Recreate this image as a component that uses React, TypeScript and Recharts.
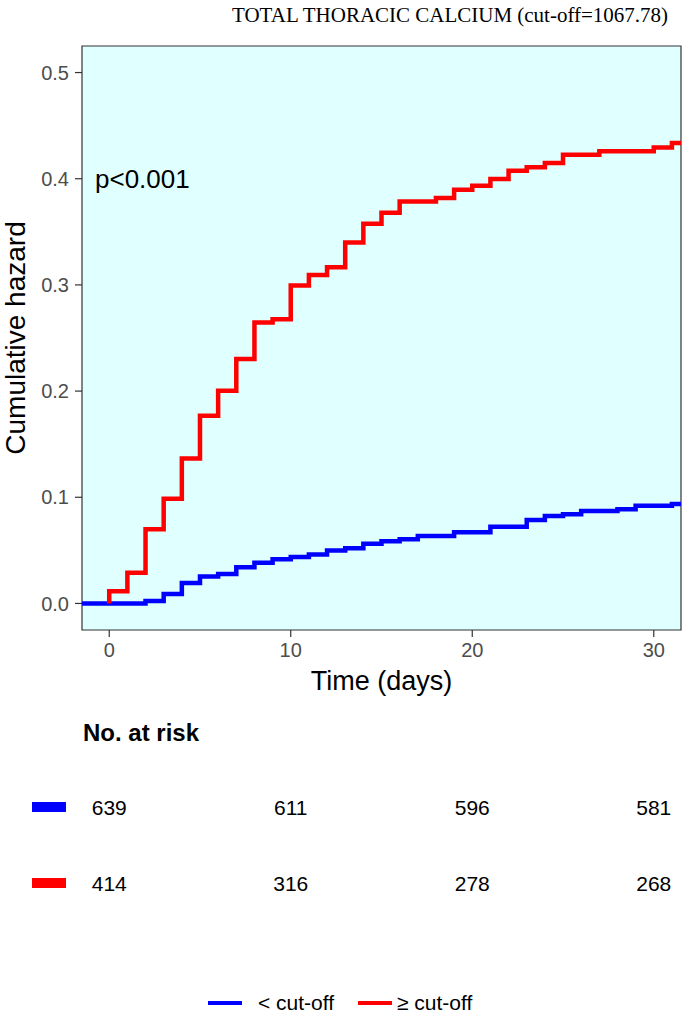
import React from "react";
import {
  LineChart,
  Line,
  XAxis,
  YAxis,
  CartesianGrid,
  ReferenceArea,
  ScatterChart,
  Scatter,
} from "recharts";

// step change points (days, cumulative hazard)
const lowTimes = [-2, 0, 2, 3, 4, 5, 6, 7, 8, 9, 10, 11, 12, 13, 14, 15, 16, 17, 19, 21, 23, 24, 25, 26, 28, 29, 31, 32];
const lowHazard = [0, 0, 0.0022, 0.009, 0.0192, 0.0255, 0.0278, 0.034, 0.0384, 0.0417, 0.0437, 0.046, 0.0498, 0.0519, 0.0563, 0.0585, 0.0604, 0.0635, 0.067, 0.0723, 0.0786, 0.0824, 0.084, 0.0871, 0.0887, 0.0921, 0.0937, 0.0937];

const highTimes = [0, 0, 1, 2, 3, 4, 5, 6, 7, 8, 9, 10, 11, 12, 13, 14, 15, 16, 18, 19, 20, 21, 22, 23, 24, 25, 27, 30, 31, 32];
const highHazard = [0, 0.0116, 0.029, 0.0698, 0.0987, 0.1365, 0.1767, 0.2003, 0.2302, 0.2645, 0.2676, 0.2994, 0.3094, 0.3167, 0.34, 0.3575, 0.368, 0.3786, 0.3818, 0.3896, 0.3934, 0.3997, 0.4075, 0.4107, 0.4148, 0.4226, 0.4258, 0.4295, 0.4336, 0.4336];

const xTicks = [0, 10, 20, 30];
const yTicks = [0, 0.1, 0.2, 0.3, 0.4, 0.5];

const riskTimes = [0, 10, 20, 30];
const lowRisk = [639, 611, 596, 581];
const highRisk = [414, 316, 278, 268];

const groupNames = ["< cut-off", "≥ cut-off"];
const groupColors = ["#0000FF", "#FF0000"];

const lowData = lowTimes.map((t, i) => ({ t, h: lowHazard[i] }));
const highData = highTimes.map((t, i) => ({ t, h: highHazard[i] }));
const lowRiskData = riskTimes.map((t, i) => ({ t, g: groupNames[0], n: lowRisk[i] }));
const highRiskData = riskTimes.map((t, i) => ({ t, g: groupNames[1], n: highRisk[i] }));

const SANS = "'Liberation Sans', Arial, sans-serif";
const X_DOMAIN: [number, number] = [-1.5, 31.5];

const RiskNumber = (props: any) => (
  <text x={props.cx} y={props.cy} dy="0.36em" textAnchor="middle" fontSize={21} fontFamily={SANS} fill="#000">
    {props.payload.n}
  </text>
);

const SwatchTick = (props: any) => {
  const idx = groupNames.indexOf(props.payload.value);
  return <rect x={32} y={props.y - 5} width={34} height={10} fill={groupColors[idx]} />;
};

export default function App() {
  return (
    <div style={{ position: "absolute", left: 0, top: 0, width: 688, height: 1016, background: "#fff" }}>
      <LineChart width={688} height={700} margin={{ top: 46, right: 7, bottom: 8, left: 0 }}>
        <CartesianGrid fill="#E0FFFF" horizontal={false} vertical={false} />
        <ReferenceArea x1={X_DOMAIN[0]} x2={X_DOMAIN[1]} y1={-0.025} y2={0.525} fill="none" stroke="#333333" strokeWidth={1.2} fillOpacity={0} />
        <XAxis
          dataKey="t"
          type="number"
          domain={X_DOMAIN}
          ticks={xTicks}
          allowDataOverflow
          height={62}
          tickSize={7}
          tickMargin={6}
          axisLine={false}
          tickLine={{ stroke: "#333333", strokeWidth: 1.2 }}
          tick={{ fill: "#4d4d4d", fontSize: 20, fontFamily: SANS }}
          label={{ value: "Time (days)", position: "insideBottom", offset: 2, fontSize: 27, fill: "#000", fontFamily: SANS }}
        />
        <YAxis
          type="number"
          domain={[-0.025, 0.525]}
          ticks={yTicks}
          allowDataOverflow
          width={82}
          tickSize={7}
          tickMargin={6}
          axisLine={false}
          tickLine={{ stroke: "#333333", strokeWidth: 1.2 }}
          tick={{ fill: "#4d4d4d", fontSize: 20, fontFamily: SANS }}
          tickFormatter={(v: number) => v.toFixed(1)}
          label={{ value: "Cumulative hazard", angle: -90, position: "insideLeft", offset: 15, fontSize: 28, fill: "#000", fontFamily: SANS, style: { textAnchor: "middle" } }}
        />
        <Line data={lowData} dataKey="h" type="stepAfter" stroke={groupColors[0]} strokeWidth={4.5} dot={false} activeDot={false} isAnimationActive={false} />
        <Line data={highData} dataKey="h" type="stepAfter" stroke={groupColors[1]} strokeWidth={4.5} dot={false} activeDot={false} isAnimationActive={false} />
      </LineChart>

      <div style={{ position: "absolute", left: 0, top: 769 }}>
        <ScatterChart width={688} height={152} margin={{ top: 0, right: 7, bottom: 0, left: 0 }}>
          <XAxis dataKey="t" type="number" domain={X_DOMAIN} hide />
          <YAxis
            dataKey="g"
            type="category"
            width={82}
            reversed
            allowDuplicatedCategory={false}
            axisLine={false}
            tickLine={false}
            tick={<SwatchTick />}
          />
          <Scatter data={lowRiskData} dataKey="n" shape={<RiskNumber />} isAnimationActive={false} />
          <Scatter data={highRiskData} dataKey="n" shape={<RiskNumber />} isAnimationActive={false} />
        </ScatterChart>
      </div>

      <svg width={688} height={1016} style={{ position: "absolute", left: 0, top: 0, pointerEvents: "none" }}>
        <text x={232} y={22} textLength={436} lengthAdjust="spacingAndGlyphs" fontSize={22} fontFamily="'Liberation Serif', 'Times New Roman', serif" fill="#000">
          TOTAL THORACIC CALCIUM (cut-off=1067.78)
        </text>
        <text x={95} y={188} fontSize={26} fontFamily={SANS} fill="#000">
          p&lt;0.001
        </text>
        <text x={83} y={741} fontSize={24} fontWeight="bold" fontFamily={SANS} fill="#000">
          No. at risk
        </text>
        {groupNames.map((name, i) => (
          <g key={name}>
            <line x1={208 + i * 150} x2={242 + i * 150} y1={1003} y2={1003} stroke={groupColors[i]} strokeWidth={4} />
            <text x={258 + i * 139} y={1010} fontSize={21} fontFamily={SANS} fill="#000">
              {name}
            </text>
          </g>
        ))}
      </svg>
    </div>
  );
}
